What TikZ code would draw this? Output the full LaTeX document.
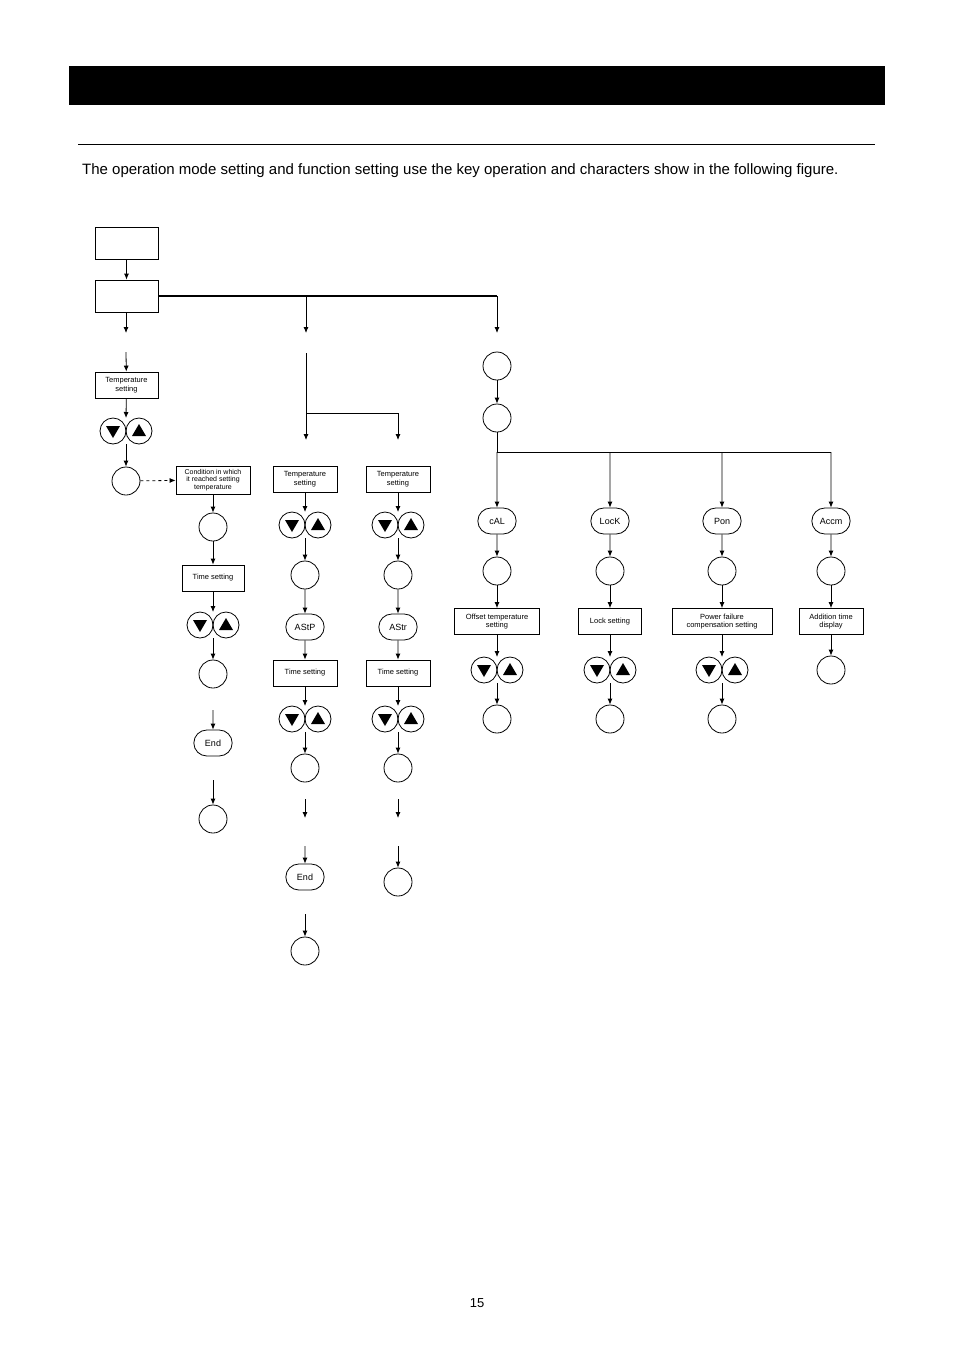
\documentclass[tikz,border=0pt]{standalone}
\usepackage{fontspec}
\setmainfont{Liberation Sans}
\usetikzlibrary{arrows.meta,shapes.misc}
\begin{document}
\begin{tikzpicture}[x=1pt,y=-1pt,
  ar/.style={-{Latex[length=6pt,width=5pt]},line width=0.8pt},
  ln/.style={line width=0.8pt},
  rbox/.style={draw,line width=0.8pt,minimum height=26pt,align=center,inner sep=1pt,font=\fontsize{7.5}{8.5}\selectfont},
  rnd/.style={draw,line width=0.8pt,rounded rectangle,minimum width=45pt,minimum height=26pt,font=\fontsize{9}{10}\selectfont},
  circ/.style={draw,line width=0.8pt,circle,minimum size=28pt,inner sep=0pt},
  kc/.style={draw,line width=0.8pt,circle,minimum size=26pt,inner sep=0pt}]
\useasboundingbox (0,0) rectangle (954,1350);
\newcommand{\kp}[3]{%
  \node[kc] (#1l) at (#2-13,#3) {};
  \node[kc] (#1r) at (#2+13,#3) {};
  \fill (#2-20,#3-5) -- (#2-6,#3-5) -- (#2-13,#3+7) -- cycle;
  \fill (#2+6,#3+5) -- (#2+20,#3+5) -- (#2+13,#3-7) -- cycle;
  \coordinate (#1t) at (#2,#3-13); \coordinate (#1b) at (#2,#3+13);}
\fill (69,66) rectangle (885,105);
\draw[line width=1pt] (78,144) -- (875,144);
\node[anchor=north west,text width=790pt,align=justify,inner sep=0pt,font=\fontsize{15}{20}\selectfont] (para) at (82,163) {The operation mode setting and function setting use the key operation and characters show in the following figure.};
\node[anchor=center,font=\fontsize{13}{14}\selectfont\rmfamily] (pg) at (477,1303) {15};
% left
\node[draw,line width=0.8pt,minimum width=63pt,minimum height=32pt] (b1) at (126.5,243) {};
\node[draw,line width=0.8pt,minimum width=63pt,minimum height=32pt] (b2) at (126.5,296) {};
\draw[ar] (b1) -- (b2);
\coordinate (h3) at (497,296);
\draw[line width=2pt] (b2.east) -- (h3);
\coordinate (a1) at (126,333); \draw[ar] (b2.south -| a1) -- (a1);
\coordinate (a2) at (306,296); \coordinate (a2e) at (306,333); \draw[ar] (a2) -- (a2e);
\coordinate (a3e) at (497,333); \draw[ar] (h3) -- (a3e);
\node[rbox,minimum width=63pt] (ts1) at (126.5,385) {Temperature\\setting};
\coordinate (s1) at (126,352); \draw[ar] (s1) -- (ts1);
\kp{k1}{126}{431}
\draw[ar] (ts1) -- (k1t);
\node[circ] (c1) at (126,481) {};
\draw[ar] (k1b) -- (c1);
\node[rbox,minimum width=74pt,minimum height=28pt,font=\fontsize{7}{7.5}\selectfont] (cond) at (213,480) {Condition in which\\it reached setting\\temperature};
\draw[ar,dashed] (c1) -- (cond);
\node[circ] (c2) at (213,527) {};
\draw[ar] (cond) -- (c2);
\node[rbox,minimum width=62pt] (tm1) at (213,578) {Time setting};
\draw[ar] (c2) -- (tm1);
\kp{k2}{213}{625}
\draw[ar] (tm1) -- (k2t);
\node[circ] (c3) at (213,674) {};
\draw[ar] (k2b) -- (c3);
\node[rnd] (e1) at (213,743) {End};
\coordinate (s2) at (213,710); \draw[ar] (s2) -- (e1);
\node[circ] (c4) at (213,819) {};
\coordinate (s3) at (213,780); \draw[ar] (s3) -- (c4);
% middle
\coordinate (m0) at (306,353); \coordinate (m1) at (306,413); \coordinate (m2) at (398,413);
\coordinate (m1e) at (306,440); \coordinate (m2e) at (398,440);
\draw[ar] (m0) -- (m1e); \draw[ar] (m1) -- (m2) -- (m2e);
\foreach \x/\n/\lab in {305/p/AStP,398/q/AStr}{
  \node[rbox,minimum width=64pt] (\n ts) at (\x,479) {Temperature\\setting};
  \kp{\n k1}{\x}{525}
  \draw[ar] (\n ts) -- (\n k1t);
  \node[circ] (\n c1) at (\x,575) {};
  \draw[ar] (\n k1b) -- (\n c1);
  \node[rnd] (\n r) at (\x,627) {\lab};
  \draw[ar] (\n c1) -- (\n r);
  \node[rbox,minimum width=64pt] (\n tm) at (\x,673) {Time setting};
  \draw[ar] (\n r) -- (\n tm);
  \kp{\n k2}{\x}{719}
  \draw[ar] (\n tm) -- (\n k2t);
  \node[circ] (\n c2) at (\x,768) {};
  \draw[ar] (\n k2b) -- (\n c2);
  \coordinate (\n s1) at (\x,799); \coordinate (\n s1e) at (\x,818);
  \draw[ar] (\n s1) -- (\n s1e);
}
\node[rnd] (e2) at (305,877) {End};
\coordinate (ps2) at (305,846); \draw[ar] (ps2) -- (e2);
\node[circ] (pc3) at (305,951) {};
\coordinate (ps3) at (305,914); \draw[ar] (ps3) -- (pc3);
\node[circ] (qc3) at (398,882) {};
\coordinate (qs2) at (398,846); \draw[ar] (qs2) -- (qc3);
% right
\node[circ] (r1) at (497,366) {};
\node[circ] (r2) at (497,418) {};
\draw[ar] (r1) -- (r2);
\coordinate (rj) at (497,452); \coordinate (rk) at (831,452);
\draw[ln] (r2) -- (rj) -- (rk);
\foreach \x/\n/\lab/\bl/\bw in {497/A/cAL/{Offset temperature\\setting}/85, 610/B/LocK/{Lock setting}/63, 722/C/Pon/{Power failure\\compensation setting}/100, 831/D/Accm/{Addition time\\display}/64}{
  \coordinate (\n t) at (\x,452);
  \node[rnd] (\n r) at (\x,521) {\lab};
  \draw[ar] (\n t) -- (\n r);
  \node[circ] (\n c1) at (\x,571) {};
  \draw[ar] (\n r) -- (\n c1);
  \node[rbox,minimum width=\bw pt] (\n b) at (\x,621.5) {\bl};
  \draw[ar] (\n c1) -- (\n b);
}
\foreach \x/\n in {497/A,610/B,722/C}{
  \kp{\n k}{\x}{670}
  \draw[ar] (\n b) -- (\n kt);
  \node[circ] (\n c2) at (\x,719) {};
  \draw[ar] (\n kb) -- (\n c2);
}
\node[circ] (Dc2) at (831,670) {};
\draw[ar] (Db) -- (Dc2);
\end{tikzpicture}
\end{document}
